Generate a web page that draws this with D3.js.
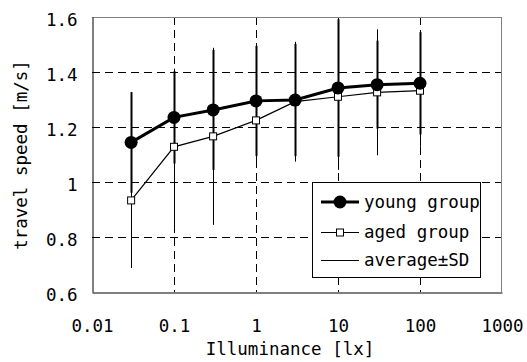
<!DOCTYPE html>
<html><head><meta charset="utf-8">
<script src="https://cdn.jsdelivr.net/npm/d3@7"></script>
<style>
html,body{margin:0;padding:0;background:#fff;}
text{font-family:"DejaVu Sans Mono","Liberation Mono",monospace;font-size:17.5px;fill:#000;}
</style></head>
<body>
<svg id="chart" width="527" height="362"></svg>
<script>
const illuminance = [0.03, 0.1, 0.3, 1, 3, 10, 30, 100];
const youngMean = [1.144, 1.235, 1.262, 1.295, 1.298, 1.342, 1.354, 1.359];
const youngSD   = [0.183, 0.168, 0.218, 0.200, 0.204, 0.250, 0.160, 0.186];
const agedMean  = [0.933, 1.128, 1.166, 1.224, 1.292, 1.310, 1.326, 1.332];
const agedSD    = [0.246, 0.284, 0.322, 0.168, 0.218, 0.266, 0.229, 0.204];
const xTicks = [0.01, 0.1, 1, 10, 100, 1000];
const xTickLabels = ["0.01", "0.1", "1", "10", "100", "1000"];
const yTicks = [0.6, 0.8, 1, 1.2, 1.4, 1.6];
const yTickLabels = ["0.6", "0.8", "1", "1.2", "1.4", "1.6"];
const legendLabels = ["young group", "aged group", "average\u00B1SD"];

const svg = d3.select("#chart");
const L = 92, R = 502, T = 17, B = 292;
const x = d3.scaleLog().domain([0.01, 1000]).range([L, R]);
const y = d3.scaleLinear().domain([0.6, 1.6]).range([B, T]);

// gridlines
const grid = svg.append("g").attr("stroke", "#000").attr("stroke-width", 1).attr("stroke-dasharray", "8,5");
grid.selectAll(".hg").data(yTicks.slice(1, -1)).enter().append("line")
  .attr("x1", L).attr("x2", R).attr("y1", d => Math.round(y(d)) + 0.5).attr("y2", d => Math.round(y(d)) + 0.5);
grid.selectAll(".vg").data(xTicks.slice(1, -1)).enter().append("line")
  .attr("y1", T).attr("y2", B).attr("x1", d => Math.round(x(d)) + 0.5).attr("x2", d => Math.round(x(d)) + 0.5);

// frame
svg.append("line").attr("x1", L).attr("x2", R).attr("y1", T + 0.5).attr("y2", T + 0.5).attr("stroke", "#808080");
svg.append("line").attr("x1", R - 0.5).attr("x2", R - 0.5).attr("y1", T).attr("y2", B).attr("stroke", "#808080");

// axes
const xAxis = d3.axisBottom(x).tickValues(xTicks).tickFormat((d, i) => xTickLabels[i]).tickSize(0).tickPadding(0);
const gx = svg.append("g").attr("transform", `translate(0,${B + 0.5})`).call(xAxis);
gx.select(".domain").attr("stroke", "#000");
gx.selectAll("text").attr("dy", null).attr("y", 39).style("font-family", null).style("font-size", null).attr("font-family", null).attr("font-size", null);
const yAxis = d3.axisLeft(y).tickValues(yTicks).tickFormat((d, i) => yTickLabels[i]).tickSize(0).tickPadding(0);
const gy = svg.append("g").attr("transform", `translate(${L + 0.5},0)`).call(yAxis);
gy.select(".domain").attr("stroke", "#000");
gy.selectAll("text").attr("x", -15).attr("dy", "0.5em").attr("font-family", null).attr("font-size", null);
gx.attr("font-family", null).attr("font-size", null);
gy.attr("font-family", null).attr("font-size", null);

// axis titles
svg.append("text").attr("x", 290).attr("y", 355).attr("text-anchor", "middle").text("Illuminance [lx]");
svg.append("text").attr("transform", "translate(27,155) rotate(-90)").attr("text-anchor", "middle").text("travel speed [m/s]");

// error bars
const idx = d3.range(illuminance.length);
svg.append("g").selectAll("line").data(idx).enter().append("line")
  .attr("x1", i => Math.round(x(illuminance[i])) + 0.5).attr("x2", i => Math.round(x(illuminance[i])) + 0.5)
  .attr("y1", i => y(agedMean[i] + agedSD[i])).attr("y2", i => y(agedMean[i] - agedSD[i]))
  .attr("stroke", "#000").attr("stroke-width", 1);
svg.append("g").selectAll("line").data(idx).enter().append("line")
  .attr("x1", i => Math.round(x(illuminance[i])) + 0.5).attr("x2", i => Math.round(x(illuminance[i])) + 0.5)
  .attr("y1", i => y(youngMean[i] + youngSD[i])).attr("y2", i => y(youngMean[i] - youngSD[i]))
  .attr("stroke", "#000").attr("stroke-width", 2);

// aged line
const lineAged = d3.line().x(i => x(illuminance[i])).y(i => y(agedMean[i]));
svg.append("path").datum(idx).attr("d", lineAged).attr("fill", "none").attr("stroke", "#000").attr("stroke-width", 1.2);
// young line
const lineYoung = d3.line().x(i => x(illuminance[i])).y(i => y(youngMean[i]));
svg.append("path").datum(idx).attr("d", lineYoung).attr("fill", "none").attr("stroke", "#000").attr("stroke-width", 3);

// aged markers
svg.append("g").selectAll("rect").data(idx).enter().append("rect")
  .attr("x", i => x(illuminance[i]) - 3.5).attr("y", i => y(agedMean[i]) - 3.5)
  .attr("width", 7).attr("height", 7).attr("fill", "#fff").attr("stroke", "#000").attr("stroke-width", 1);
// young markers
svg.append("g").selectAll("circle").data(idx).enter().append("circle")
  .attr("cx", i => x(illuminance[i])).attr("cy", i => y(youngMean[i])).attr("r", 6.5).attr("fill", "#000");

// legend
const lg = svg.append("g");
lg.append("rect").attr("x", 312.5).attr("y", 182.5).attr("width", 168).attr("height", 95).attr("fill", "#fff").attr("stroke", "#000");
const rowsY = [202, 232, 260];
lg.append("line").attr("x1", 321).attr("x2", 359).attr("y1", rowsY[0]).attr("y2", rowsY[0]).attr("stroke", "#000").attr("stroke-width", 3);
lg.append("circle").attr("cx", 340).attr("cy", rowsY[0]).attr("r", 6.5).attr("fill", "#000");
lg.append("line").attr("x1", 321).attr("x2", 359).attr("y1", rowsY[1] + 0.5).attr("y2", rowsY[1] + 0.5).attr("stroke", "#000").attr("stroke-width", 1);
lg.append("rect").attr("x", 336.5).attr("y", rowsY[1] - 3).attr("width", 7).attr("height", 7).attr("fill", "#fff").attr("stroke", "#000");
lg.append("line").attr("x1", 321).attr("x2", 359).attr("y1", rowsY[2] + 0.5).attr("y2", rowsY[2] + 0.5).attr("stroke", "#000").attr("stroke-width", 1);
lg.selectAll("text.lt").data(legendLabels).enter().append("text")
  .attr("x", 364).attr("y", (d, i) => rowsY[i]).attr("dy", "0.36em").text(d => d);
</script>
</body></html>
